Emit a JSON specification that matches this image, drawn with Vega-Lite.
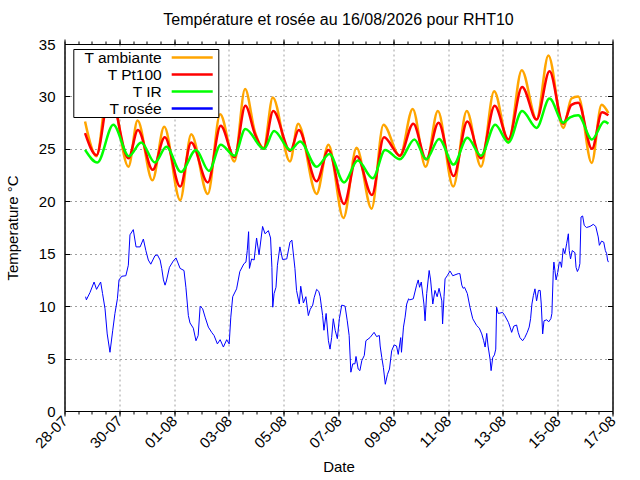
{
  "$schema": "https://vega.github.io/schema/vega-lite/v6.json",
  "autosize": {"type": "none"},
  "width": 548,
  "height": 367,
  "padding": {"left": 64.5, "top": 44, "right": 27.5, "bottom": 69},
  "background": "white",
  "title": {"text": "Température et rosée au 16/08/2026 pour RHT10", "anchor": "middle", "frame": "group"},
  "datasets": {
    "amb": [
      {"t": "2026-07-28T18:00", "v": 27.6}, {"t": "2026-07-29T04:00", "v": 24.3}, {"t": "2026-07-29T15:00", "v": 31.5},
      {"t": "2026-07-30T08:00", "v": 23.3}, {"t": "2026-07-30T16:00", "v": 27.7}, {"t": "2026-07-31T05:00", "v": 22.0},
      {"t": "2026-07-31T15:20", "v": 27.1}, {"t": "2026-08-01T05:20", "v": 20.1}, {"t": "2026-08-01T15:00", "v": 26.4},
      {"t": "2026-08-02T05:30", "v": 20.7}, {"t": "2026-08-02T16:20", "v": 28.3}, {"t": "2026-08-03T04:50", "v": 23.8},
      {"t": "2026-08-03T14:10", "v": 30.7}, {"t": "2026-08-03T22:50", "v": 26.6}, {"t": "2026-08-04T06:30", "v": 25.1},
      {"t": "2026-08-04T14:25", "v": 29.9}, {"t": "2026-08-05T05:30", "v": 23.8}, {"t": "2026-08-05T12:40", "v": 27.4},
      {"t": "2026-08-06T04:50", "v": 20.7}, {"t": "2026-08-06T15:10", "v": 25.4}, {"t": "2026-08-07T04:20", "v": 18.4},
      {"t": "2026-08-07T15:50", "v": 25.1}, {"t": "2026-08-08T05:00", "v": 19.3}, {"t": "2026-08-08T15:20", "v": 27.3},
      {"t": "2026-08-09T05:45", "v": 24.3}, {"t": "2026-08-09T17:00", "v": 28.8}, {"t": "2026-08-10T04:20", "v": 23.3},
      {"t": "2026-08-10T15:00", "v": 28.6}, {"t": "2026-08-11T04:30", "v": 21.4}, {"t": "2026-08-11T16:20", "v": 28.6},
      {"t": "2026-08-12T04:50", "v": 23.3}, {"t": "2026-08-12T16:20", "v": 30.5}, {"t": "2026-08-13T04:50", "v": 25.6},
      {"t": "2026-08-13T16:30", "v": 32.5}, {"t": "2026-08-14T05:30", "v": 27.8}, {"t": "2026-08-14T15:50", "v": 33.9},
      {"t": "2026-08-15T04:50", "v": 27.0}, {"t": "2026-08-15T12:00", "v": 29.8}, {"t": "2026-08-15T18:00", "v": 30.0},
      {"t": "2026-08-16T05:45", "v": 23.65}, {"t": "2026-08-16T14:25", "v": 29.2}, {"t": "2026-08-16T20:25", "v": 28.4}
    ],
    "pt": [
      {"t": "2026-07-28T18:00", "v": 26.5}, {"t": "2026-07-29T04:00", "v": 24.4}, {"t": "2026-07-29T15:35", "v": 30.3},
      {"t": "2026-07-30T08:00", "v": 24.1}, {"t": "2026-07-30T16:20", "v": 26.8}, {"t": "2026-07-31T05:15", "v": 23.0},
      {"t": "2026-07-31T15:50", "v": 26.1}, {"t": "2026-08-01T05:20", "v": 21.4}, {"t": "2026-08-01T15:00", "v": 25.6},
      {"t": "2026-08-02T05:30", "v": 21.8}, {"t": "2026-08-02T16:50", "v": 27.2}, {"t": "2026-08-03T04:50", "v": 24.2},
      {"t": "2026-08-03T14:25", "v": 29.1}, {"t": "2026-08-03T22:50", "v": 26.4}, {"t": "2026-08-04T06:30", "v": 25.0},
      {"t": "2026-08-04T14:50", "v": 28.6}, {"t": "2026-08-05T05:45", "v": 24.8}, {"t": "2026-08-05T13:10", "v": 26.8},
      {"t": "2026-08-06T04:50", "v": 21.9}, {"t": "2026-08-06T15:10", "v": 24.9}, {"t": "2026-08-07T04:50", "v": 19.75},
      {"t": "2026-08-07T16:05", "v": 24.3}, {"t": "2026-08-08T05:15", "v": 20.6}, {"t": "2026-08-08T15:50", "v": 26.1},
      {"t": "2026-08-09T05:45", "v": 24.35}, {"t": "2026-08-09T17:30", "v": 27.4}, {"t": "2026-08-10T04:50", "v": 24.0},
      {"t": "2026-08-10T15:35", "v": 27.5}, {"t": "2026-08-11T04:50", "v": 22.4}, {"t": "2026-08-11T16:50", "v": 27.6},
      {"t": "2026-08-12T04:50", "v": 24.1}, {"t": "2026-08-12T16:50", "v": 29.1}, {"t": "2026-08-13T04:50", "v": 25.9},
      {"t": "2026-08-13T16:50", "v": 30.9}, {"t": "2026-08-14T05:30", "v": 27.8}, {"t": "2026-08-14T16:50", "v": 32.4},
      {"t": "2026-08-15T04:50", "v": 27.4}, {"t": "2026-08-15T12:00", "v": 29.2}, {"t": "2026-08-15T18:00", "v": 29.4},
      {"t": "2026-08-16T06:00", "v": 25.0}, {"t": "2026-08-16T14:50", "v": 28.5}, {"t": "2026-08-16T20:25", "v": 28.2}
    ],
    "ir": [
      {"t": "2026-07-28T18:00", "v": 24.9}, {"t": "2026-07-29T04:50", "v": 23.7}, {"t": "2026-07-29T18:45", "v": 27.3},
      {"t": "2026-07-30T08:25", "v": 24.3}, {"t": "2026-07-30T19:10", "v": 25.6}, {"t": "2026-07-31T07:10", "v": 23.7},
      {"t": "2026-07-31T17:15", "v": 25.2}, {"t": "2026-08-01T06:00", "v": 22.8}, {"t": "2026-08-01T19:10", "v": 24.9},
      {"t": "2026-08-02T06:30", "v": 22.9}, {"t": "2026-08-02T16:50", "v": 25.4}, {"t": "2026-08-03T04:50", "v": 24.35},
      {"t": "2026-08-03T14:25", "v": 26.9}, {"t": "2026-08-04T06:45", "v": 25.0}, {"t": "2026-08-04T15:35", "v": 26.7},
      {"t": "2026-08-05T05:45", "v": 24.9}, {"t": "2026-08-05T14:25", "v": 25.7}, {"t": "2026-08-06T04:50", "v": 23.3},
      {"t": "2026-08-06T16:05", "v": 24.5}, {"t": "2026-08-07T04:50", "v": 21.8}, {"t": "2026-08-07T16:50", "v": 23.9},
      {"t": "2026-08-08T06:00", "v": 22.2}, {"t": "2026-08-08T16:50", "v": 24.9}, {"t": "2026-08-09T05:45", "v": 24.0},
      {"t": "2026-08-09T18:30", "v": 25.9}, {"t": "2026-08-10T04:50", "v": 24.0}, {"t": "2026-08-10T16:05", "v": 25.95},
      {"t": "2026-08-11T04:50", "v": 23.5}, {"t": "2026-08-11T16:50", "v": 26.05}, {"t": "2026-08-12T04:50", "v": 24.35},
      {"t": "2026-08-12T17:15", "v": 27.3}, {"t": "2026-08-13T04:50", "v": 25.6}, {"t": "2026-08-13T16:50", "v": 28.6},
      {"t": "2026-08-14T05:30", "v": 27.0}, {"t": "2026-08-14T16:50", "v": 29.8}, {"t": "2026-08-15T04:50", "v": 27.5},
      {"t": "2026-08-15T10:50", "v": 28.0}, {"t": "2026-08-15T18:00", "v": 28.2}, {"t": "2026-08-16T06:00", "v": 25.9},
      {"t": "2026-08-16T16:50", "v": 27.6}, {"t": "2026-08-16T20:25", "v": 27.4}
    ],
    "dew": [
      {"t": "2026-07-28T18:30", "v": 10.9}, {"t": "2026-07-28T19:10", "v": 10.6}, {"t": "2026-07-28T22:20", "v": 11.3},
      {"t": "2026-07-29T01:55", "v": 12.3}, {"t": "2026-07-29T04:05", "v": 11.6}, {"t": "2026-07-29T07:40", "v": 12.3},
      {"t": "2026-07-29T09:20", "v": 11.2}, {"t": "2026-07-29T11:30", "v": 9.75}, {"t": "2026-07-29T13:25", "v": 7.35},
      {"t": "2026-07-29T15:50", "v": 5.6}, {"t": "2026-07-29T18:15", "v": 7.7}, {"t": "2026-07-29T20:10", "v": 9.3},
      {"t": "2026-07-29T22:20", "v": 10.7}, {"t": "2026-07-29T23:45", "v": 12.5}, {"t": "2026-07-30T02:10", "v": 12.85},
      {"t": "2026-07-30T05:45", "v": 12.9}, {"t": "2026-07-30T07:55", "v": 13.9}, {"t": "2026-07-30T09:20", "v": 16.8},
      {"t": "2026-07-30T12:15", "v": 17.3}, {"t": "2026-07-30T14:40", "v": 15.65}, {"t": "2026-07-30T18:15", "v": 15.65},
      {"t": "2026-07-30T21:05", "v": 16.4}, {"t": "2026-07-30T23:15", "v": 15.3}, {"t": "2026-07-31T01:25", "v": 14.4},
      {"t": "2026-07-31T03:35", "v": 14.0}, {"t": "2026-07-31T07:10", "v": 14.8}, {"t": "2026-07-31T09:20", "v": 14.9},
      {"t": "2026-07-31T11:45", "v": 14.4}, {"t": "2026-07-31T13:10", "v": 13.6}, {"t": "2026-07-31T14:40", "v": 12.5},
      {"t": "2026-07-31T16:05", "v": 12.0}, {"t": "2026-07-31T17:15", "v": 12.4}, {"t": "2026-07-31T19:55", "v": 13.7},
      {"t": "2026-07-31T23:15", "v": 14.3}, {"t": "2026-08-01T01:40", "v": 14.6}, {"t": "2026-08-01T05:15", "v": 13.6},
      {"t": "2026-08-01T08:40", "v": 13.4}, {"t": "2026-08-01T10:20", "v": 11.8}, {"t": "2026-08-01T12:30", "v": 9.1},
      {"t": "2026-08-01T13:55", "v": 8.4}, {"t": "2026-08-01T16:50", "v": 7.9}, {"t": "2026-08-01T19:10", "v": 6.7},
      {"t": "2026-08-01T21:05", "v": 7.2}, {"t": "2026-08-01T22:50", "v": 10.0}, {"t": "2026-08-02T01:00", "v": 9.75},
      {"t": "2026-08-02T03:10", "v": 8.95}, {"t": "2026-08-02T06:00", "v": 8.0}, {"t": "2026-08-02T08:55", "v": 7.5},
      {"t": "2026-08-02T11:00", "v": 7.2}, {"t": "2026-08-02T13:55", "v": 6.4}, {"t": "2026-08-02T16:20", "v": 6.8},
      {"t": "2026-08-02T19:10", "v": 6.1}, {"t": "2026-08-02T22:05", "v": 6.8}, {"t": "2026-08-03T00:15", "v": 6.4},
      {"t": "2026-08-03T01:40", "v": 8.95}, {"t": "2026-08-03T03:20", "v": 10.9}, {"t": "2026-08-03T06:45", "v": 11.65},
      {"t": "2026-08-03T09:35", "v": 13.3}, {"t": "2026-08-03T13:10", "v": 14.05}, {"t": "2026-08-03T14:55", "v": 14.2},
      {"t": "2026-08-03T16:05", "v": 15.3}, {"t": "2026-08-03T17:15", "v": 17.1}, {"t": "2026-08-03T18:00", "v": 13.6},
      {"t": "2026-08-03T19:55", "v": 14.5}, {"t": "2026-08-03T22:05", "v": 14.4}, {"t": "2026-08-04T00:15", "v": 16.5},
      {"t": "2026-08-04T02:25", "v": 14.9}, {"t": "2026-08-04T05:30", "v": 17.6}, {"t": "2026-08-04T07:40", "v": 16.9},
      {"t": "2026-08-04T10:35", "v": 17.2}, {"t": "2026-08-04T12:30", "v": 16.5}, {"t": "2026-08-04T13:40", "v": 13.7},
      {"t": "2026-08-04T14:25", "v": 9.9}, {"t": "2026-08-04T15:35", "v": 11.2}, {"t": "2026-08-04T17:15", "v": 11.8},
      {"t": "2026-08-04T18:30", "v": 13.9}, {"t": "2026-08-04T20:40", "v": 15.65}, {"t": "2026-08-04T23:00", "v": 14.45},
      {"t": "2026-08-05T02:40", "v": 14.5}, {"t": "2026-08-05T05:30", "v": 16.1}, {"t": "2026-08-05T07:10", "v": 16.3},
      {"t": "2026-08-05T09:50", "v": 13.6}, {"t": "2026-08-05T11:15", "v": 11.5}, {"t": "2026-08-05T13:40", "v": 10.2},
      {"t": "2026-08-05T14:55", "v": 11.9}, {"t": "2026-08-05T17:15", "v": 10.3}, {"t": "2026-08-05T19:25", "v": 10.9},
      {"t": "2026-08-05T21:35", "v": 9.1}, {"t": "2026-08-05T23:15", "v": 9.7}, {"t": "2026-08-06T01:25", "v": 10.1},
      {"t": "2026-08-06T02:40", "v": 10.8}, {"t": "2026-08-06T04:50", "v": 11.6}, {"t": "2026-08-06T06:45", "v": 11.4},
      {"t": "2026-08-06T07:55", "v": 10.9}, {"t": "2026-08-06T10:05", "v": 9.1}, {"t": "2026-08-06T11:15", "v": 7.7},
      {"t": "2026-08-06T13:10", "v": 9.3}, {"t": "2026-08-06T15:10", "v": 6.7}, {"t": "2026-08-06T16:35", "v": 5.9},
      {"t": "2026-08-06T18:00", "v": 7.0}, {"t": "2026-08-06T19:25", "v": 8.8}, {"t": "2026-08-06T21:05", "v": 7.7},
      {"t": "2026-08-06T23:00", "v": 6.9}, {"t": "2026-08-07T00:45", "v": 8.8}, {"t": "2026-08-07T02:50", "v": 10.1},
      {"t": "2026-08-07T05:45", "v": 10.0}, {"t": "2026-08-07T07:40", "v": 8.6}, {"t": "2026-08-07T09:20", "v": 7.2},
      {"t": "2026-08-07T10:50", "v": 3.7}, {"t": "2026-08-07T12:30", "v": 4.5}, {"t": "2026-08-07T14:25", "v": 4.5},
      {"t": "2026-08-07T15:20", "v": 5.2}, {"t": "2026-08-07T17:15", "v": 4.0}, {"t": "2026-08-07T18:45", "v": 3.85},
      {"t": "2026-08-07T20:25", "v": 4.8}, {"t": "2026-08-07T22:35", "v": 5.3}, {"t": "2026-08-08T00:00", "v": 6.7},
      {"t": "2026-08-08T03:35", "v": 7.0}, {"t": "2026-08-08T07:10", "v": 7.5}, {"t": "2026-08-08T09:20", "v": 7.1},
      {"t": "2026-08-08T11:45", "v": 7.2}, {"t": "2026-08-08T12:30", "v": 6.2}, {"t": "2026-08-08T13:55", "v": 5.1},
      {"t": "2026-08-08T15:20", "v": 4.15}, {"t": "2026-08-08T17:00", "v": 2.55}, {"t": "2026-08-08T18:55", "v": 3.5},
      {"t": "2026-08-08T20:40", "v": 4.0}, {"t": "2026-08-08T22:35", "v": 5.75}, {"t": "2026-08-09T00:45", "v": 6.3},
      {"t": "2026-08-09T02:50", "v": 6.2}, {"t": "2026-08-09T04:20", "v": 5.4}, {"t": "2026-08-09T06:30", "v": 7.0},
      {"t": "2026-08-09T07:10", "v": 5.6}, {"t": "2026-08-09T08:55", "v": 8.0}, {"t": "2026-08-09T10:20", "v": 8.95},
      {"t": "2026-08-09T11:45", "v": 10.2}, {"t": "2026-08-09T13:25", "v": 10.7}, {"t": "2026-08-09T14:25", "v": 10.6},
      {"t": "2026-08-09T17:30", "v": 10.7}, {"t": "2026-08-09T20:25", "v": 12.0}, {"t": "2026-08-09T21:50", "v": 12.5},
      {"t": "2026-08-09T23:00", "v": 11.8}, {"t": "2026-08-10T00:30", "v": 12.3}, {"t": "2026-08-10T02:50", "v": 10.2},
      {"t": "2026-08-10T03:50", "v": 8.6}, {"t": "2026-08-10T05:15", "v": 11.2}, {"t": "2026-08-10T07:25", "v": 13.4},
      {"t": "2026-08-10T08:40", "v": 12.5}, {"t": "2026-08-10T10:35", "v": 10.2}, {"t": "2026-08-10T12:30", "v": 11.5},
      {"t": "2026-08-10T14:25", "v": 10.9}, {"t": "2026-08-10T16:05", "v": 11.7}, {"t": "2026-08-10T18:30", "v": 10.5},
      {"t": "2026-08-10T19:10", "v": 8.3}, {"t": "2026-08-10T20:25", "v": 10.9}, {"t": "2026-08-10T21:20", "v": 12.6},
      {"t": "2026-08-10T23:15", "v": 12.9}, {"t": "2026-08-11T01:40", "v": 13.35}, {"t": "2026-08-11T04:05", "v": 12.9},
      {"t": "2026-08-11T08:55", "v": 13.1}, {"t": "2026-08-11T10:20", "v": 13.1}, {"t": "2026-08-11T12:00", "v": 12.0},
      {"t": "2026-08-11T13:10", "v": 11.7}, {"t": "2026-08-11T14:25", "v": 11.8}, {"t": "2026-08-11T16:50", "v": 11.2},
      {"t": "2026-08-11T19:10", "v": 9.9}, {"t": "2026-08-11T21:35", "v": 8.8}, {"t": "2026-08-12T01:00", "v": 8.15},
      {"t": "2026-08-12T03:20", "v": 7.9}, {"t": "2026-08-12T05:30", "v": 7.35}, {"t": "2026-08-12T07:10", "v": 6.7},
      {"t": "2026-08-12T08:25", "v": 6.1}, {"t": "2026-08-12T09:50", "v": 7.4}, {"t": "2026-08-12T11:00", "v": 6.2},
      {"t": "2026-08-12T12:45", "v": 4.95}, {"t": "2026-08-12T13:40", "v": 3.85}, {"t": "2026-08-12T15:05", "v": 5.1},
      {"t": "2026-08-12T16:35", "v": 5.35}, {"t": "2026-08-12T17:45", "v": 5.9}, {"t": "2026-08-12T18:30", "v": 9.9},
      {"t": "2026-08-12T19:55", "v": 9.3}, {"t": "2026-08-12T23:45", "v": 9.4}, {"t": "2026-08-13T01:40", "v": 9.1},
      {"t": "2026-08-13T04:50", "v": 8.45}, {"t": "2026-08-13T06:15", "v": 8.0}, {"t": "2026-08-13T07:40", "v": 7.5},
      {"t": "2026-08-13T09:35", "v": 8.1}, {"t": "2026-08-13T12:00", "v": 8.2}, {"t": "2026-08-13T13:25", "v": 7.5},
      {"t": "2026-08-13T14:55", "v": 7.0}, {"t": "2026-08-13T17:15", "v": 6.7}, {"t": "2026-08-13T19:10", "v": 7.0},
      {"t": "2026-08-13T21:20", "v": 7.5}, {"t": "2026-08-13T23:00", "v": 8.0}, {"t": "2026-08-14T00:15", "v": 8.8},
      {"t": "2026-08-14T01:25", "v": 10.2}, {"t": "2026-08-14T02:40", "v": 11.0}, {"t": "2026-08-14T04:05", "v": 11.65},
      {"t": "2026-08-14T05:30", "v": 10.5}, {"t": "2026-08-14T07:10", "v": 11.5}, {"t": "2026-08-14T08:40", "v": 11.5},
      {"t": "2026-08-14T09:35", "v": 10.2}, {"t": "2026-08-14T10:50", "v": 7.35}, {"t": "2026-08-14T12:00", "v": 8.6},
      {"t": "2026-08-14T14:25", "v": 8.7}, {"t": "2026-08-14T16:05", "v": 8.5}, {"t": "2026-08-14T18:00", "v": 8.8},
      {"t": "2026-08-14T18:55", "v": 9.3}, {"t": "2026-08-14T20:10", "v": 13.4}, {"t": "2026-08-14T20:40", "v": 14.2},
      {"t": "2026-08-14T22:35", "v": 12.5}, {"t": "2026-08-15T00:00", "v": 13.2}, {"t": "2026-08-15T01:25", "v": 14.2},
      {"t": "2026-08-15T02:25", "v": 14.2}, {"t": "2026-08-15T03:20", "v": 13.7}, {"t": "2026-08-15T04:50", "v": 15.5},
      {"t": "2026-08-15T06:15", "v": 15.0}, {"t": "2026-08-15T07:55", "v": 16.0}, {"t": "2026-08-15T09:20", "v": 16.9},
      {"t": "2026-08-15T10:05", "v": 15.3}, {"t": "2026-08-15T11:15", "v": 14.5}, {"t": "2026-08-15T12:45", "v": 15.3},
      {"t": "2026-08-15T15:05", "v": 15.1}, {"t": "2026-08-15T16:05", "v": 13.7}, {"t": "2026-08-15T17:15", "v": 13.3},
      {"t": "2026-08-15T18:30", "v": 13.6}, {"t": "2026-08-15T19:25", "v": 14.05}, {"t": "2026-08-15T20:25", "v": 18.5},
      {"t": "2026-08-15T21:50", "v": 18.6}, {"t": "2026-08-15T23:15", "v": 17.7}, {"t": "2026-08-16T01:10", "v": 17.5},
      {"t": "2026-08-16T04:20", "v": 17.6}, {"t": "2026-08-16T07:10", "v": 17.8}, {"t": "2026-08-16T09:20", "v": 17.6},
      {"t": "2026-08-16T11:30", "v": 16.6}, {"t": "2026-08-16T12:30", "v": 15.8}, {"t": "2026-08-16T14:25", "v": 16.2},
      {"t": "2026-08-16T16:20", "v": 16.1}, {"t": "2026-08-16T17:45", "v": 15.3}, {"t": "2026-08-16T18:55", "v": 15.0},
      {"t": "2026-08-16T19:40", "v": 14.4}, {"t": "2026-08-16T20:25", "v": 14.2}
    ]
  },
  "layer": [
    {
      "data": {"name": "amb"},
      "mark": {"type": "line", "interpolate": "monotone", "strokeWidth": 2.5},
      "encoding": {
        "x": {
          "field": "t", "type": "temporal",
          "scale": {"domain": [{"year": 2026, "month": 7, "date": 28}, {"year": 2026, "month": 8, "date": 17}], "nice": false},
          "axis": {
            "orient": "bottom", "format": "%d-%m", "formatType": "time",
            "values": [
              {"year": 2026, "month": 7, "date": 28}, {"year": 2026, "month": 7, "date": 30},
              {"year": 2026, "month": 8, "date": 1}, {"year": 2026, "month": 8, "date": 3},
              {"year": 2026, "month": 8, "date": 5}, {"year": 2026, "month": 8, "date": 7},
              {"year": 2026, "month": 8, "date": 9}, {"year": 2026, "month": 8, "date": 11},
              {"year": 2026, "month": 8, "date": 13}, {"year": 2026, "month": 8, "date": 15},
              {"year": 2026, "month": 8, "date": 17}
            ],
            "labelAngle": -45, "labelAlign": "right", "labelBaseline": "middle", "labelPadding": 2,
            "labelFlush": false, "labelOverlap": false, "tickSize": 5,
            "grid": true, "gridColor": "#a0a0a0", "gridDash": [2, 3],
            "title": "Date", "titleY": 55, "titleBaseline": "middle"
          }
        },
        "y": {
          "field": "v", "type": "quantitative",
          "scale": {"domain": [0, 35], "nice": false, "zero": false},
          "axis": {
            "orient": "left", "values": [0, 5, 10, 15, 20, 25, 30, 35],
            "tickSize": -5, "labelPadding": 14.5, "grid": false,
            "title": "Temperature °C", "titleX": -52.5, "titleY": 183.5, "titleBaseline": "middle", "titleAngle": -90
          }
        },
        "color": {
          "datum": "T ambiante", "type": "nominal",
          "scale": {"domain": ["T ambiante", "T Pt100", "T IR", "T rosée"], "range": ["#ffa500", "#ff0000", "#00ff00", "#0000ff"]}
        }
      }
    },
    {
      "data": {"name": "pt"},
      "mark": {"type": "line", "interpolate": "monotone", "strokeWidth": 2.5},
      "encoding": {
        "x": {"field": "t", "type": "temporal",
          "axis": {
            "orient": "top", "labels": false, "tickSize": 5, "grid": false, "title": null,
            "values": [
              {"year": 2026, "month": 7, "date": 28}, {"year": 2026, "month": 7, "date": 30},
              {"year": 2026, "month": 8, "date": 1}, {"year": 2026, "month": 8, "date": 3},
              {"year": 2026, "month": 8, "date": 5}, {"year": 2026, "month": 8, "date": 7},
              {"year": 2026, "month": 8, "date": 9}, {"year": 2026, "month": 8, "date": 11},
              {"year": 2026, "month": 8, "date": 13}, {"year": 2026, "month": 8, "date": 15},
              {"year": 2026, "month": 8, "date": 17}
            ]
          }
        },
        "y": {"field": "v", "type": "quantitative",
          "axis": {"orient": "right", "values": [0, 5, 10, 15, 20, 25, 30, 35], "labels": false, "tickSize": -5, "grid": false, "title": null}
        },
        "color": {"datum": "T Pt100", "type": "nominal"}
      }
    },
    {
      "data": {"name": "ir"},
      "mark": {"type": "line", "interpolate": "monotone", "strokeWidth": 2.5},
      "encoding": {
        "x": {"field": "t", "type": "temporal",
          "axis": {"orient": "bottom", "tickCount": 40, "labels": false, "tickSize": 3, "domain": false, "grid": false, "title": null}
        },
        "y": {"field": "v", "type": "quantitative",
          "axis": {"orient": "left", "values": [5, 10, 15, 20, 25, 30], "grid": true, "gridColor": "#a0a0a0", "gridDash": [2, 3], "ticks": false, "labels": false, "domain": false, "title": null}
        },
        "color": {"datum": "T IR", "type": "nominal"}
      }
    },
    {
      "data": {"name": "dew"},
      "mark": {"type": "line", "strokeWidth": 1},
      "encoding": {
        "x": {"field": "t", "type": "temporal",
          "axis": {"orient": "top", "tickCount": 40, "labels": false, "tickSize": 3, "domain": false, "grid": false, "title": null}
        },
        "y": {"field": "v", "type": "quantitative", "axis": null},
        "color": {"datum": "T rosée", "type": "nominal"}
      }
    }
  ],
  "resolve": {"axis": {"x": "independent", "y": "independent"}},
  "config": {
    "font": "Liberation Sans",
    "view": {"stroke": "black", "strokeWidth": 1},
    "title": {"fontSize": 16, "fontWeight": "normal", "color": "black", "offset": 9},
    "axis": {
      "labelFontSize": 15, "titleFontSize": 15, "titleFontWeight": "normal",
      "labelColor": "black", "titleColor": "black", "tickColor": "black", "domainColor": "black"
    },
    "legend": {
      "orient": "none", "legendX": 8.8, "legendY": 5, "direction": "vertical",
      "strokeColor": "black", "fillColor": "white", "padding": 0,
      "symbolType": "M-2.93,0H2.93", "symbolSize": 196, "symbolStrokeWidth": 2.5,
      "labelAlign": "right", "labelOffset": -39, "symbolOffset": 110.4, "rowPadding": -5.2,
      "labelFontSize": 15.5, "labelColor": "black"
    }
  }
}
